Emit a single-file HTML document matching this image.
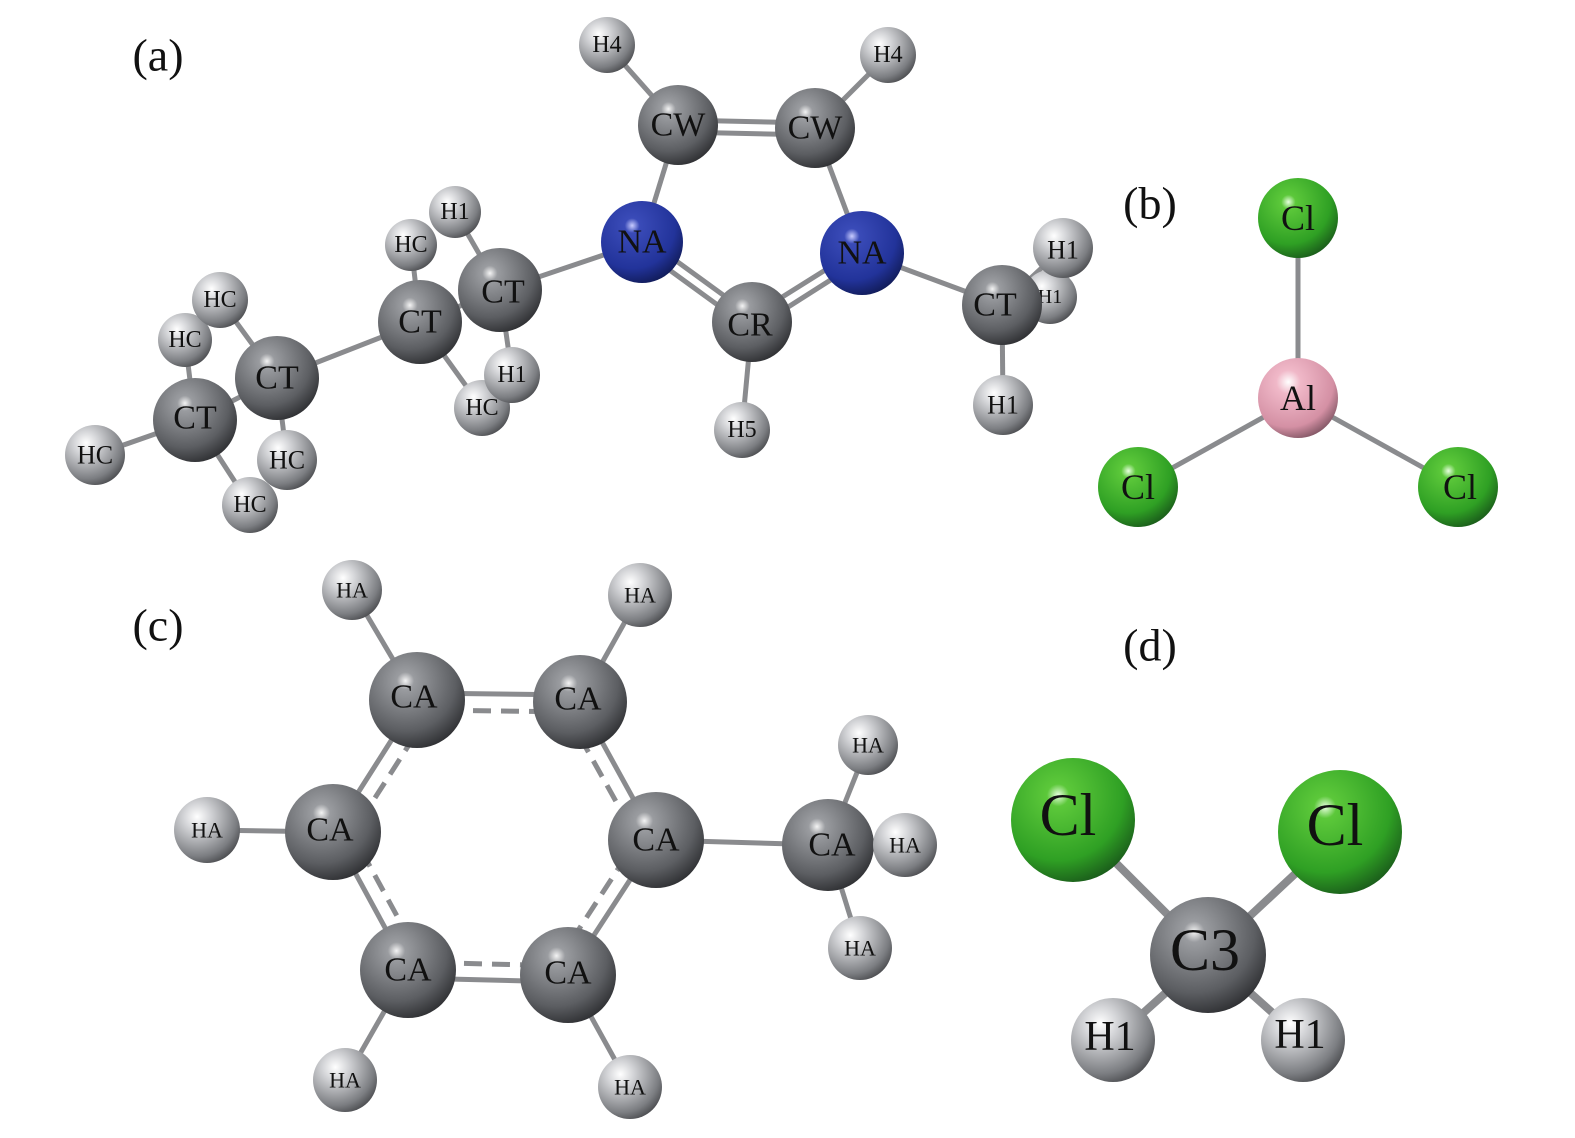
<!DOCTYPE html>
<html><head><meta charset="utf-8"><style>
html,body{margin:0;padding:0;background:#fff;}
svg text{font-family:"Liberation Serif",serif;fill:#111;text-anchor:middle;dominant-baseline:central;}
</style></head><body>
<svg width="1575" height="1133" viewBox="0 0 1575 1133" xmlns="http://www.w3.org/2000/svg">
<defs>
<radialGradient id="g" cx="0.38" cy="0.3" r="0.75"><stop offset="0" stop-color="#f4f4f4"/><stop offset="0.12" stop-color="#9a9ca0"/><stop offset="0.7" stop-color="#5c5e62"/><stop offset="1" stop-color="#2c2d30"/></radialGradient>
<radialGradient id="h" cx="0.35" cy="0.3" r="0.8"><stop offset="0" stop-color="#ffffff"/><stop offset="0.25" stop-color="#d4d5d8"/><stop offset="0.75" stop-color="#7c7e82"/><stop offset="1" stop-color="#3e3f42"/></radialGradient>
<radialGradient id="b" cx="0.38" cy="0.3" r="0.75"><stop offset="0" stop-color="#c8ccff"/><stop offset="0.12" stop-color="#3a4bb8"/><stop offset="0.7" stop-color="#22339a"/><stop offset="1" stop-color="#101a55"/></radialGradient>
<radialGradient id="c" cx="0.38" cy="0.3" r="0.75"><stop offset="0" stop-color="#e8ffe0"/><stop offset="0.12" stop-color="#5cc83a"/><stop offset="0.7" stop-color="#2fa024"/><stop offset="1" stop-color="#19581a"/></radialGradient>
<radialGradient id="p" cx="0.38" cy="0.3" r="0.75"><stop offset="0" stop-color="#fff"/><stop offset="0.2" stop-color="#f0b8c8"/><stop offset="0.75" stop-color="#d490a4"/><stop offset="1" stop-color="#7c5260"/></radialGradient>
</defs>
<g stroke="#8a8b8e" stroke-width="5" fill="none">
<line x1="607" y1="45" x2="678" y2="125"/><line x1="888" y1="55" x2="815" y2="128"/>
<line x1="678" y1="120" x2="815" y2="123"/><line x1="678" y1="132" x2="815" y2="135"/>
<line x1="678" y1="125" x2="642" y2="242"/><line x1="815" y1="128" x2="862" y2="253"/>
<line x1="642" y1="236" x2="752" y2="316"/><line x1="642" y1="250" x2="752" y2="330"/>
<line x1="862" y1="247" x2="752" y2="316"/><line x1="862" y1="260" x2="752" y2="330"/>
<line x1="752" y1="322" x2="742" y2="430"/>
<line x1="642" y1="242" x2="500" y2="290"/><line x1="862" y1="253" x2="1002" y2="305"/>
<line x1="1002" y1="305" x2="1063" y2="248"/><line x1="1002" y1="305" x2="1003" y2="405"/>
<line x1="500" y1="290" x2="455" y2="212"/><line x1="500" y1="290" x2="512" y2="375"/>
<line x1="500" y1="290" x2="420" y2="322"/><line x1="420" y1="322" x2="411" y2="245"/>
<line x1="420" y1="322" x2="482" y2="408"/><line x1="420" y1="322" x2="277" y2="378"/>
<line x1="277" y1="378" x2="220" y2="300"/><line x1="277" y1="378" x2="287" y2="460"/>
<line x1="277" y1="378" x2="195" y2="420"/><line x1="195" y1="420" x2="185" y2="340"/>
<line x1="195" y1="420" x2="95" y2="455"/><line x1="195" y1="420" x2="250" y2="505"/>
<line x1="1298" y1="218" x2="1298" y2="398"/><line x1="1298" y1="398" x2="1138" y2="487"/><line x1="1298" y1="398" x2="1458" y2="487"/>
<line x1="352" y1="590" x2="417" y2="700"/><line x1="640" y1="595" x2="580" y2="702"/>
<line x1="417" y1="693" x2="580" y2="695"/><line x1="417" y1="710" x2="580" y2="712" stroke-dasharray="18 10"/>
<line x1="417" y1="700" x2="333" y2="832"/><line x1="430" y1="712" x2="348" y2="840" stroke-dasharray="18 10"/>
<line x1="580" y1="702" x2="656" y2="840"/><line x1="566" y1="712" x2="642" y2="848" stroke-dasharray="18 10"/>
<line x1="333" y1="832" x2="408" y2="970"/><line x1="348" y1="826" x2="422" y2="962" stroke-dasharray="18 10"/>
<line x1="656" y1="840" x2="568" y2="975"/><line x1="642" y1="832" x2="555" y2="966" stroke-dasharray="18 10"/>
<line x1="408" y1="978" x2="568" y2="982"/><line x1="408" y1="962" x2="568" y2="966" stroke-dasharray="18 10"/>
<line x1="207" y1="830" x2="333" y2="832"/><line x1="656" y1="840" x2="828" y2="845"/>
<line x1="828" y1="845" x2="868" y2="745"/><line x1="828" y1="845" x2="860" y2="948"/>
<line x1="408" y1="970" x2="345" y2="1080"/><line x1="568" y1="975" x2="630" y2="1087"/>
<line x1="1073" y1="820" x2="1208" y2="955" stroke-width="8"/><line x1="1340" y1="832" x2="1208" y2="955" stroke-width="8"/>
<line x1="1113" y1="1040" x2="1208" y2="955" stroke-width="8"/><line x1="1303" y1="1040" x2="1208" y2="955" stroke-width="8"/>
</g>
<g>
<circle cx="1050" cy="297" r="27" fill="url(#h)"/><text x="1050" y="297" font-size="20">H1</text>
<circle cx="411" cy="245" r="26" fill="url(#h)"/><text x="411" y="245" font-size="24">HC</text>
<circle cx="455" cy="212" r="26" fill="url(#h)"/><text x="455" y="212" font-size="24">H1</text>
<circle cx="185" cy="340" r="27" fill="url(#h)"/><text x="185" y="340" font-size="24">HC</text>
<circle cx="220" cy="300" r="28" fill="url(#h)"/><text x="220" y="300" font-size="24">HC</text>
<circle cx="482" cy="408" r="28" fill="url(#h)"/><text x="482" y="408" font-size="24">HC</text>
<circle cx="250" cy="505" r="28" fill="url(#h)"/><text x="250" y="505" font-size="24">HC</text>
<circle cx="607" cy="45" r="28" fill="url(#h)"/><text x="607" y="45" font-size="24">H4</text>
<circle cx="888" cy="55" r="28" fill="url(#h)"/><text x="888" y="55" font-size="24">H4</text>
<circle cx="742" cy="430" r="28" fill="url(#h)"/><text x="742" y="430" font-size="24">H5</text>
<circle cx="1063" cy="248" r="30" fill="url(#h)"/><text x="1063" y="250" font-size="26">H1</text>
<circle cx="1003" cy="405" r="30" fill="url(#h)"/><text x="1003" y="405" font-size="26">H1</text>
<circle cx="95" cy="455" r="30" fill="url(#h)"/><text x="95" y="455" font-size="26">HC</text>
<circle cx="678" cy="125" r="40" fill="url(#g)"/><text x="678" y="125" font-size="34">CW</text>
<circle cx="815" cy="128" r="40" fill="url(#g)"/><text x="815" y="128" font-size="34">CW</text>
<circle cx="642" cy="242" r="41" fill="url(#b)"/><text x="642" y="242" font-size="34">NA</text>
<circle cx="862" cy="253" r="42" fill="url(#b)"/><text x="862" y="253" font-size="34">NA</text>
<circle cx="752" cy="322" r="40" fill="url(#g)"/><text x="750" y="325" font-size="34">CR</text>
<circle cx="1002" cy="305" r="40" fill="url(#g)"/><text x="995" y="305" font-size="34">CT</text>
<circle cx="420" cy="322" r="42" fill="url(#g)"/><text x="420" y="322" font-size="34">CT</text>
<circle cx="500" cy="290" r="42" fill="url(#g)"/><text x="503" y="292" font-size="34">CT</text>
<circle cx="512" cy="375" r="28" fill="url(#h)"/><text x="512" y="375" font-size="24">H1</text>
<circle cx="195" cy="420" r="42" fill="url(#g)"/><text x="195" y="418" font-size="34">CT</text>
<circle cx="277" cy="378" r="42" fill="url(#g)"/><text x="277" y="378" font-size="34">CT</text>
<circle cx="287" cy="460" r="30" fill="url(#h)"/><text x="287" y="460" font-size="26">HC</text>
<circle cx="1298" cy="218" r="40" fill="url(#c)"/><text x="1298" y="218" font-size="36">Cl</text>
<circle cx="1298" cy="398" r="40" fill="url(#p)"/><text x="1298" y="398" font-size="36">Al</text>
<circle cx="1138" cy="487" r="40" fill="url(#c)"/><text x="1138" y="487" font-size="36">Cl</text>
<circle cx="1458" cy="487" r="40" fill="url(#c)"/><text x="1460" y="487" font-size="36">Cl</text>
<circle cx="352" cy="590" r="30" fill="url(#h)"/><text x="352" y="590" font-size="22">HA</text>
<circle cx="640" cy="595" r="32" fill="url(#h)"/><text x="640" y="595" font-size="22">HA</text>
<circle cx="207" cy="830" r="33" fill="url(#h)"/><text x="207" y="830" font-size="22">HA</text>
<circle cx="345" cy="1080" r="32" fill="url(#h)"/><text x="345" y="1080" font-size="22">HA</text>
<circle cx="630" cy="1087" r="32" fill="url(#h)"/><text x="630" y="1087" font-size="22">HA</text>
<circle cx="868" cy="745" r="30" fill="url(#h)"/><text x="868" y="745" font-size="22">HA</text>
<circle cx="860" cy="948" r="32" fill="url(#h)"/><text x="860" y="948" font-size="22">HA</text>
<circle cx="417" cy="700" r="48" fill="url(#g)"/><text x="414" y="697" font-size="34">CA</text>
<circle cx="580" cy="702" r="47" fill="url(#g)"/><text x="578" y="699" font-size="34">CA</text>
<circle cx="333" cy="832" r="48" fill="url(#g)"/><text x="330" y="830" font-size="34">CA</text>
<circle cx="656" cy="840" r="48" fill="url(#g)"/><text x="656" y="840" font-size="34">CA</text>
<circle cx="408" cy="970" r="48" fill="url(#g)"/><text x="408" y="970" font-size="34">CA</text>
<circle cx="568" cy="975" r="48" fill="url(#g)"/><text x="568" y="973" font-size="34">CA</text>
<circle cx="828" cy="845" r="46" fill="url(#g)"/><text x="832" y="845" font-size="34">CA</text>
<circle cx="905" cy="845" r="32" fill="url(#h)"/><text x="905" y="845" font-size="22">HA</text>
<circle cx="1073" cy="820" r="62" fill="url(#c)"/><text x="1068" y="815" font-size="60">Cl</text>
<circle cx="1340" cy="832" r="62" fill="url(#c)"/><text x="1335" y="825" font-size="60">Cl</text>
<circle cx="1208" cy="955" r="58" fill="url(#g)"/><text x="1205" y="950" font-size="60">C3</text>
<circle cx="1113" cy="1040" r="42" fill="url(#h)"/><text x="1110" y="1037" font-size="42">H1</text>
<circle cx="1303" cy="1040" r="42" fill="url(#h)"/><text x="1300" y="1035" font-size="42">H1</text>
<text x="158" y="55" font-size="46">(a)</text>
<text x="1150" y="203" font-size="46">(b)</text>
<text x="158" y="625" font-size="46">(c)</text>
<text x="1150" y="645" font-size="46">(d)</text>
</g>
</svg>
</body></html>
